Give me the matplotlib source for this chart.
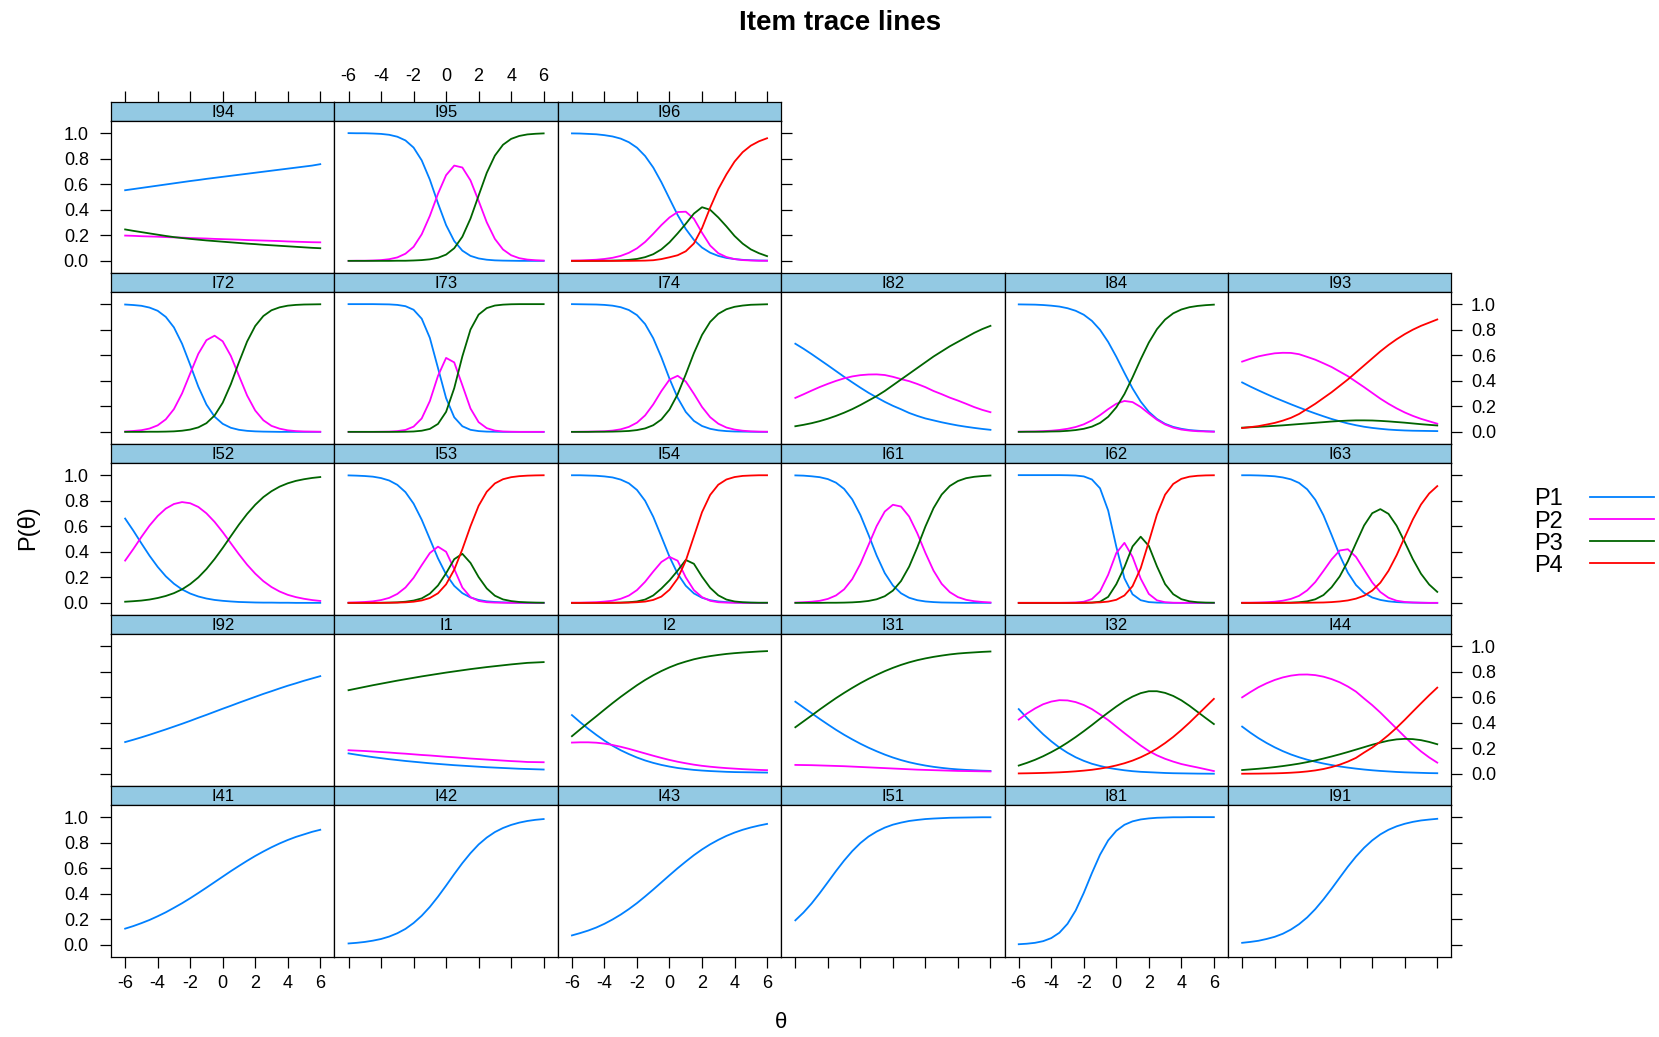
import matplotlib
matplotlib.use("Agg")
import matplotlib.pyplot as plt
from matplotlib.lines import Line2D

plt.rcParams['font.family'] = ['Liberation Sans', 'DejaVu Sans']
plt.rcParams['axes.unicode_minus'] = False

# ---------------- data ----------------
THETA = [-6.0, -5.5, -5.0, -4.5, -4.0, -3.5, -3.0, -2.5, -2.0, -1.5, -1.0, -0.5, 0.0,
         0.5, 1.0, 1.5, 2.0, 2.5, 3.0, 3.5, 4.0, 4.5, 5.0, 5.5, 6.0]

I94 = [[.553,.562,.571,.580,.589,.598,.607,.616,.625,.633,.642,.650,.658,.666,.674,.682,.690,.698,.706,.714,.722,.730,.738,.746,.757],
       [.198,.196,.193,.191,.189,.186,.184,.182,.179,.177,.175,.172,.170,.168,.166,.163,.161,.159,.157,.155,.152,.150,.148,.146,.145],
       [.246,.235,.225,.215,.205,.195,.186,.179,.172,.166,.160,.155,.150,.145,.140,.135,.131,.126,.122,.118,.114,.110,.106,.102,.099]]
I95 = [[1.0,.999,.999,.997,.994,.987,.972,.943,.887,.787,.636,.451,.280,.155,.080,.039,.019,.009,.004,.002,.001,0,0,0,0],
       [0,.001,.001,.003,.006,.013,.027,.056,.110,.208,.352,.525,.671,.746,.731,.630,.470,.302,.172,.089,.044,.021,.010,.005,.002],
       [0,0,0,0,0,0,.001,.001,.003,.006,.012,.024,.049,.099,.189,.331,.511,.689,.824,.909,.955,.978,.990,.995,.998]]
I96 = [[.998,.997,.994,.991,.984,.974,.957,.929,.886,.821,.731,.616,.487,.359,.250,.164,.104,.064,.039,.023,.014,.008,.005,.003,.002],
       [.002,.003,.006,.009,.015,.024,.039,.063,.098,.148,.212,.280,.340,.382,.385,.330,.220,.120,.060,.030,.014,.006,.003,.001,.001],
       [0,0,0,0,.001,.002,.004,.008,.015,.029,.052,.090,.145,.215,.290,.370,.420,.400,.340,.270,.195,.135,.090,.060,.037],
       [0,0,0,0,0,0,0,0,.001,.002,.005,.014,.028,.044,.075,.136,.256,.416,.561,.677,.777,.851,.902,.936,.960]]

I72 = [[.997,.993,.987,.973,.948,.900,.818,.690,.525,.354,.214,.119,.063,.032,.016,.008,.004,.002,.001,0,0,0,0,0,0],
       [.003,.007,.013,.026,.051,.098,.178,.301,.457,.611,.718,.753,.709,.595,.439,.285,.167,.091,.047,.025,.012,.006,.003,.002,.001],
       [0,0,0,.001,.001,.002,.004,.009,.018,.035,.068,.128,.228,.373,.545,.707,.829,.907,.952,.975,.988,.994,.997,.998,.999]]
I73 = [[1,1,1,1,.999,.998,.994,.984,.956,.886,.736,.5,.264,.114,.044,.016,.006,.002,.001,0,0,0,0,0,0],
       [0,0,0,0,.001,.002,.006,.015,.041,.105,.241,.438,.579,.544,.365,.183,.076,.029,.010,.003,.001,0,0,0,0],
       [0,0,0,0,0,0,0,.001,.003,.009,.023,.062,.157,.342,.591,.801,.918,.969,.989,.996,.999,1,1,1,1]]
I74 = [[1.0,.999,.998,.997,.994,.988,.976,.954,.914,.844,.733,.584,.416,.267,.156,.086,.046,.024,.012,.006,.003,.002,.001,0,0],
       [0,.001,.002,.003,.005,.010,.020,.039,.072,.129,.215,.319,.409,.439,.394,.298,.195,.115,.064,.034,.018,.009,.004,.002,.001],
       [0,0,0,.001,.001,.002,.004,.007,.014,.027,.052,.097,.175,.294,.450,.616,.759,.861,.924,.960,.979,.989,.995,.997,.999]]
I82 = [[.690,.651,.609,.565,.521,.476,.431,.388,.346,.306,.270,.235,.204,.177,.148,.125,.105,.090,.075,.062,.050,.040,.031,.023,.016],
       [.266,.294,.323,.351,.376,.399,.419,.434,.444,.449,.450,.445,.431,.413,.397,.375,.350,.320,.295,.268,.245,.220,.194,.172,.154],
       [.044,.055,.068,.084,.103,.125,.150,.178,.210,.245,.280,.320,.365,.410,.455,.500,.545,.590,.630,.670,.705,.740,.775,.805,.830]]
I84 = [[.998,.997,.996,.993,.988,.981,.968,.948,.917,.869,.799,.704,.588,.462,.340,.237,.157,.101,.063,.039,.024,.014,.009,.005,.003],
       [.002,.002,.003,.006,.009,.015,.024,.038,.059,.090,.131,.178,.220,.242,.233,.195,.144,.095,.058,.033,.018,.010,.005,.003,.001],
       [0,.001,.001,.001,.003,.004,.008,.014,.024,.041,.070,.118,.192,.296,.427,.568,.699,.804,.879,.928,.958,.976,.986,.992,.996]]
I93 = [[.387,.355,.325,.296,.268,.242,.216,.191,.167,.144,.122,.101,.083,.066,.052,.040,.031,.024,.018,.014,.011,.009,.008,.007,.006],
       [.550,.572,.591,.604,.615,.619,.618,.608,.587,.565,.537,.508,.472,.436,.393,.350,.305,.260,.220,.184,.152,.125,.102,.083,.064],
       [.033,.036,.039,.043,.047,.051,.056,.061,.066,.071,.076,.081,.085,.088,.090,.090,.089,.086,.082,.077,.072,.066,.060,.055,.050],
       [.030,.037,.045,.057,.070,.088,.110,.140,.180,.220,.265,.310,.360,.410,.465,.520,.575,.630,.680,.725,.765,.800,.830,.855,.880]]

I52 = [[.660,.566,.466,.369,.282,.208,.150,.105,.073,.050,.034,.023,.016,.011,.007,.005,.003,.002,.002,.001,.001,0,0,0,0],
       [.331,.421,.516,.605,.680,.738,.774,.789,.780,.751,.701,.634,.554,.467,.380,.299,.229,.170,.124,.089,.063,.045,.032,.022,.015],
       [.009,.013,.018,.026,.038,.054,.076,.106,.147,.199,.265,.343,.430,.522,.613,.696,.768,.828,.874,.910,.936,.955,.968,.978,.985]]
I53 = [[.998,.996,.993,.988,.977,.958,.924,.867,.777,.651,.500,.349,.223,.133,.076,.042,.023,.012,.007,.004,.002,.001,0,0,0],
       [.002,.004,.007,.012,.022,.039,.070,.120,.196,.295,.390,.440,.400,.265,.120,.045,.015,.005,.002,.001,0,0,0,0,0],
       [0,0,0,0,.001,.002,.004,.009,.018,.035,.072,.136,.232,.342,.384,.313,.202,.113,.056,.027,.014,.007,.004,.002,.001],
       [0,0,0,0,0,.001,.002,.004,.009,.019,.038,.075,.145,.260,.420,.600,.760,.870,.935,.968,.984,.992,.996,.998,.999]]
I54 = [[.999,.999,.997,.995,.990,.982,.965,.936,.884,.799,.674,.519,.361,.228,.134,.074,.040,.021,.011,.006,.003,.0015,.001,0,0],
       [.001,.001,.003,.005,.010,.017,.032,.057,.100,.165,.245,.320,.360,.330,.200,.100,.045,.016,.005,.002,.001,0,0,0,0],
       [0,0,0,0,0,.001,.002,.005,.011,.026,.058,.112,.176,.252,.336,.306,.205,.118,.059,.026,.011,.005,.002,.001,.001],
       [0,0,0,0,0,0,.001,.002,.005,.010,.023,.049,.103,.190,.330,.520,.710,.845,.925,.966,.985,.994,.997,.999,.999]]
I61 = [[.998,.996,.991,.984,.969,.941,.892,.810,.688,.533,.371,.233,.136,.075,.040,.021,.011,.006,.003,.002,.001,0,0,0,0],
       [.002,.005,.009,.016,.031,.058,.106,.186,.305,.453,.601,.715,.768,.754,.676,.545,.391,.252,.149,.084,.045,.024,.013,.007,.003],
       [0,0,0,0,.001,.001,.002,.004,.008,.015,.028,.052,.096,.171,.284,.434,.598,.742,.848,.915,.954,.976,.987,.993,.997]]
I62 = [[1,1,1,1,1,1,.999,.997,.990,.966,.897,.723,.440,.192,.067,.021,.006,.002,.001,0,0,0,0,0,0],
       [0,0,0,0,0,0,.001,.003,.009,.030,.090,.220,.390,.470,.360,.190,.070,.020,.005,.001,0,0,0,0,0],
       [0,0,0,0,0,0,0,0,.001,.002,.009,.047,.146,.280,.442,.518,.446,.286,.147,.068,.029,.012,.005,.002,.001],
       [0,0,0,0,0,0,0,0,0,.002,.004,.010,.024,.058,.131,.271,.478,.692,.847,.931,.971,.988,.995,.998,.999]]
I63 = [[.999,.999,.9975,.995,.991,.982,.967,.939,.889,.807,.686,.532,.373,.237,.140,.078,.042,.023,.012,.006,.003,.002,.001,0,0],
       [.001,.001,.0025,.005,.009,.017,.031,.055,.098,.163,.250,.340,.410,.420,.360,.260,.160,.085,.040,.017,.007,.003,.001,0,0],
       [0,0,0,0,0,.001,.002,.005,.012,.028,.061,.122,.207,.325,.467,.606,.702,.734,.697,.604,.476,.342,.228,.144,.086],
       [0,0,0,0,0,0,0,.001,.001,.002,.003,.006,.011,.019,.033,.056,.096,.158,.251,.373,.514,.653,.770,.856,.914]]

I92 = [[.249,.267,.286,.306,.327,.348,.370,.392,.415,.439,.462,.486,.510,.533,.557,.580,.603,.626,.647,.669,.690,.709,.729,.747,.765]]
I1 = [[.160,.150,.140,.131,.123,.115,.108,.101,.095,.089,.083,.078,.073,.068,.064,.060,.056,.052,.049,.046,.043,.040,.038,.036,.034],
      [.185,.182,.179,.175,.171,.167,.162,.158,.153,.148,.144,.139,.134,.130,.125,.120,.116,.112,.108,.104,.100,.097,.093,.092,.091],
      [.655,.668,.681,.694,.706,.718,.730,.741,.752,.763,.773,.783,.793,.802,.811,.820,.828,.836,.843,.850,.857,.863,.869,.872,.875]]
I2 = [[.460,.405,.353,.305,.260,.220,.185,.155,.128,.105,.086,.070,.057,.046,.038,.031,.026,.022,.019,.016,.014,.013,.012,.011,.010],
      [.245,.247,.247,.244,.237,.226,.212,.196,.178,.160,.142,.125,.109,.095,.083,.072,.063,.056,.050,.045,.041,.037,.034,.031,.029],
      [.295,.348,.400,.451,.503,.554,.603,.649,.694,.735,.772,.805,.834,.859,.879,.897,.911,.922,.931,.939,.945,.950,.954,.958,.961]]
I31 = [[.565,.520,.475,.430,.387,.345,.306,.270,.236,.205,.177,.151,.128,.108,.091,.077,.065,.055,.047,.040,.035,.031,.028,.025,.023],
       [.070,.069,.068,.066,.064,.062,.060,.057,.054,.051,.048,.045,.042,.039,.036,.033,.031,.029,.027,.025,.023,.022,.021,.020,.019],
       [.365,.411,.457,.504,.549,.593,.634,.673,.710,.744,.775,.804,.830,.853,.873,.890,.904,.916,.926,.935,.942,.947,.951,.955,.958]]
I32 = [[.507,.438,.372,.310,.255,.206,.165,.130,.102,.079,.062,.047,.037,.028,.021,.016,.013,.010,.007,.005,.004,.003,.002,.0015,.001],
       [.425,.472,.512,.545,.566,.577,.575,.562,.539,.507,.465,.421,.370,.319,.270,.222,.179,.145,.118,.096,.077,.063,.050,.036,.022],
       [.065,.086,.110,.138,.170,.205,.245,.288,.334,.382,.432,.480,.527,.570,.605,.632,.647,.647,.634,.610,.576,.533,.485,.437,.390],
       [.0035,.0045,.0058,.0074,.0095,.012,.0155,.0198,.0253,.032,.041,.052,.066,.083,.104,.130,.161,.198,.241,.289,.343,.401,.463,.525,.587]]
I44 = [[.370,.323,.280,.242,.208,.178,.152,.130,.111,.095,.081,.069,.058,.049,.041,.034,.028,.023,.019,.015,.012,.010,.008,.006,.005],
       [.599,.640,.678,.709,.735,.755,.769,.777,.778,.773,.761,.742,.717,.684,.644,.590,.538,.480,.417,.354,.291,.230,.176,.129,.088],
       [.030,.035,.040,.046,.053,.061,.070,.080,.092,.105,.120,.136,.153,.171,.190,.209,.228,.245,.260,.270,.274,.272,.264,.250,.232],
       [.001,.0015,.002,.003,.004,.006,.009,.013,.019,.027,.038,.053,.072,.096,.125,.167,.206,.252,.304,.361,.423,.488,.552,.615,.675]]

I41 = [[.127,.147,.170,.195,.224,.255,.290,.326,.365,.406,.448,.491,.534,.577,.618,.658,.696,.731,.764,.794,.821,.845,.865,.885,.901]]
I42 = [[.011,.016,.023,.033,.046,.065,.091,.125,.171,.228,.297,.377,.464,.554,.640,.718,.786,.840,.883,.915,.939,.957,.970,.979,.985]]
I43 = [[.074,.092,.112,.136,.165,.199,.237,.280,.327,.379,.433,.489,.545,.600,.652,.702,.747,.787,.822,.853,.879,.901,.919,.934,.947]]
I51 = [[.192,.253,.324,.405,.491,.578,.660,.734,.797,.848,.887,.918,.941,.957,.970,.978,.985,.989,.992,.995,.996,.997,.998,.999,.999]]
I81 = [[.005,.009,.016,.029,.053,.095,.165,.269,.407,.562,.706,.818,.893,.940,.967,.982,.990,.995,.997,.999,.999,1,1,1,1]]
I91 = [[.016,.023,.032,.046,.063,.087,.120,.162,.215,.280,.356,.439,.526,.612,.691,.760,.818,.865,.901,.928,.948,.963,.974,.981,.987]]

PANEL_ROWS = [["I94", "I95", "I96"],
              ["I72", "I73", "I74", "I82", "I84", "I93"],
              ["I52", "I53", "I54", "I61", "I62", "I63"],
              ["I92", "I1", "I2", "I31", "I32", "I44"],
              ["I41", "I42", "I43", "I51", "I81", "I91"]]
SERIES = ["P1", "P2", "P3", "P4"]
XTICKS = [-6, -4, -2, 0, 2, 4, 6]
YTICKS = [0.0, 0.2, 0.4, 0.6, 0.8, 1.0]

TRACES = {"I94": I94, "I95": I95, "I96": I96, "I72": I72, "I73": I73, "I74": I74,
          "I82": I82, "I84": I84, "I93": I93, "I52": I52, "I53": I53, "I54": I54,
          "I61": I61, "I62": I62, "I63": I63, "I92": I92, "I1": I1, "I2": I2,
          "I31": I31, "I32": I32, "I44": I44, "I41": I41, "I42": I42, "I43": I43,
          "I51": I51, "I81": I81, "I91": I91}

# ---------------- styling ----------------
COLORS = ["#0080ff", "#ff00ff", "#006400", "#ff0000"]
STRIP_COLOR = "#93c9e3"
W, H = 1659, 1037
X0, PW = 111.0, 223.4
TOP0, PITCH, SH, PH = 102.0, 171.0, 19.0, 152.0
XLIM = (-6.87, 6.87)
YLIM = (-0.095, 1.095)
LW_FRAME = 0.9
LW_LINE = 1.3

fig = plt.figure(figsize=(W / 100, H / 100), dpi=100)


def rect(x, y, w, h):
    return [x / W, 1 - (y + h) / H, w / W, h / H]


nrows = len(PANEL_ROWS)
for r, row in enumerate(PANEL_ROWS):
    ncols = len(row)
    for c, name in enumerate(row):
        x = X0 + c * PW
        ys = TOP0 + r * PITCH
        # strip
        sax = fig.add_axes(rect(x, ys, PW, SH))
        sax.set_facecolor(STRIP_COLOR)
        sax.set_xlim(*XLIM)
        sax.set_yticks([])
        for sp in sax.spines.values():
            sp.set_linewidth(LW_FRAME)
        sax.text(0.5, 0.45, name, ha='center', va='center', fontsize=12,
                 transform=sax.transAxes)
        if r == 0:
            sax.set_xticks(XTICKS)
            sax.set_xticklabels([str(t) for t in XTICKS])
            sax.tick_params(axis='x', direction='out', length=8, width=LW_FRAME,
                            labelsize=13, top=True, bottom=False,
                            labeltop=(c % 2 == 1), labelbottom=False, pad=4)
        else:
            sax.set_xticks([])

        # panel
        ax = fig.add_axes(rect(x, ys + SH, PW, PH))
        for k, vals in enumerate(TRACES[name]):
            ax.plot(THETA, vals, color=COLORS[k], lw=LW_LINE, solid_joinstyle='round')
        ax.set_xlim(*XLIM)
        ax.set_ylim(*YLIM)
        for sp in ax.spines.values():
            sp.set_linewidth(LW_FRAME)
        ax.set_xticks(XTICKS)
        ax.set_xticklabels([str(t) for t in XTICKS])
        ax.set_yticks(YTICKS)
        ax.set_yticklabels([f"{t:.1f}" for t in YTICKS])
        bottom = (r == nrows - 1)
        ax.tick_params(axis='x', direction='out', length=8, width=LW_FRAME,
                       labelsize=13, top=False, bottom=bottom,
                       labeltop=False, labelbottom=bottom and (c % 2 == 0), pad=5)
        left = (c == 0)
        right = (c == ncols - 1)
        lab_left = left and (r % 2 == 0)
        lab_right = right and (r % 2 == 1)
        ax.tick_params(axis='y', direction='out', length=8, width=LW_FRAME,
                       labelsize=13, left=left, right=right,
                       labelleft=lab_left, labelright=lab_right,
                       pad=8.0 if lab_left else 6.0)

# titles / axis labels
fig.text(840 / W, 1 - 23 / H, "Item trace lines", ha='center', va='center',
         fontsize=20, fontweight='bold')
fig.text(28 / W, 1 - 528 / H, "P(θ)", ha='center', va='center', rotation=90,
         fontsize=17)
fig.text(781 / W, 1 - 1023 / H, "θ", ha='center', va='center', fontsize=16)

# legend (label left of line, as in lattice key)
LEG_Y = [497, 519, 541, 563]
for k, lab in enumerate(SERIES):
    y = LEG_Y[k]
    fig.text(1534 / W, 1 - (y + 8.5) / H, lab, ha='left', va='baseline', fontsize=17)
    fig.add_artist(Line2D([1590 / W, 1654 / W], [1 - y / H, 1 - y / H],
                          color=COLORS[k], lw=LW_LINE, transform=fig.transFigure))

fig.savefig("out.png", dpi=100)
